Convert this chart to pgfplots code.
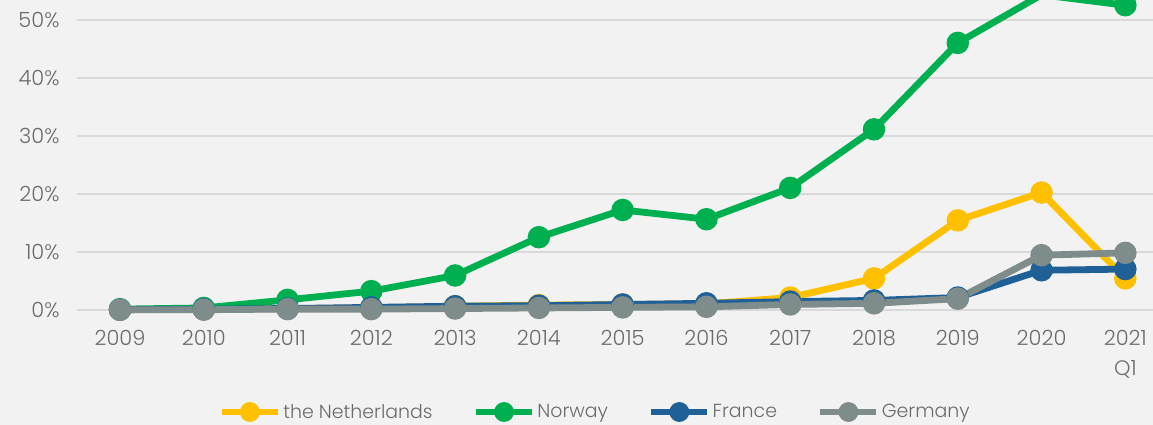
\documentclass[border=0pt]{standalone}
\usepackage{pgfplots}
\pgfplotsset{compat=1.18}
\usepackage{pgfplotstable}
\usepackage{fontspec}
\setmainfont{Poppins}[UprightFont=* Light]

\definecolor{bg}{HTML}{F2F2F2}
\definecolor{gridc}{HTML}{D9D9D9}
\definecolor{txt}{HTML}{6B6B6B}
\definecolor{nlc}{HTML}{FFC000}
\definecolor{noc}{HTML}{00B050}
\definecolor{frc}{HTML}{1F6096}
\definecolor{dec}{HTML}{7F8C8C}

% share of new sales, in %
\pgfplotstableread{
x  nl   no    fr   de
0  0.0  0.1   0.0  0.0
1  0.1  0.3   0.1  0.0
2  0.2  1.7   0.2  0.1
3  0.3  3.2   0.4  0.1
4  0.6  5.9   0.6  0.2
5  0.8  12.5  0.7  0.3
6  0.9  17.2  0.9  0.4
7  1.0  15.6  1.1  0.5
8  2.1  21.0  1.4  0.9
9  5.4  31.1  1.6  1.1
10 15.4 46.0  2.1  1.9
11 20.2 54.3  6.8  9.4
12 5.4  52.5  7.0  9.8
}\evdata

\begin{document}
\begin{tikzpicture}
\fill[bg] (0,0) rectangle (1153bp,425bp);
\useasboundingbox (0,0) rectangle (1153bp,425bp);
\begin{axis}[
    at={(77bp,106.6bp)}, anchor=south west,
    scale only axis,
    width=1076bp, height=318.4bp,
    xmin=-0.513, xmax=12.33,
    ymin=-1.5, ymax=53.4,
    axis line style={draw=none},
    major tick length=0pt,
    xtick={0,...,12},
    xticklabels={2009,2010,2011,2012,2013,2014,2015,2016,2017,2018,2019,2020,{2021\\Q1}},
    ytick={0,10,...,50},
    yticklabel={\pgfmathprintnumber{\tick}\%},
    /pgf/number format/assume math mode=true,
    ymajorgrids,
    grid style={gridc, line width=2bp},
    tick label style={font=\fontsize{21}{30}\selectfont, text=txt},
    xticklabel style={align=center, yshift=-8bp},
    yticklabel style={xshift=-14bp},
    every axis plot/.append style={line width=6.8bp, mark=*, mark size=7.8bp},
    legend columns=4,
    legend style={at={(0.4815,-0.294)}, anchor=center, draw=none, fill=none,
        font=\fontsize{19}{22}\selectfont, text=txt,
        nodes={inner sep=2bp},
        /tikz/every even column/.append style={column sep=38bp}},
    legend image code/.code={\draw[mark repeat=2,mark phase=2,mark size=6.5bp,#1]
        plot coordinates {(0bp,0bp) (28bp,0bp) (56bp,0bp)};},
]
\addplot[nlc, mark options={fill=nlc, draw=nlc}] table[x=x, y=nl] {\evdata};
\addplot[noc, mark options={fill=noc, draw=noc}] table[x=x, y=no] {\evdata};
\addplot[frc, mark options={fill=frc, draw=frc}] table[x=x, y=fr] {\evdata};
\addplot[dec, mark options={fill=dec, draw=dec}] table[x=x, y=de] {\evdata};
\legend{the Netherlands, Norway, France, Germany}
\end{axis}
\end{tikzpicture}
\end{document}
